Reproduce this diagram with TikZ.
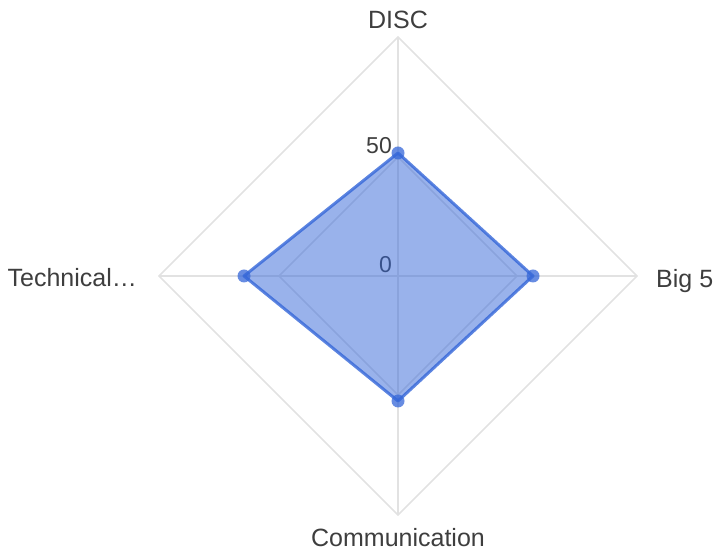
\documentclass[tikz,border=0pt]{standalone}
\usepackage{fontspec}
\setmainfont{Liberation Sans}
\usetikzlibrary{positioning}
\definecolor{gridgray}{RGB}{226,226,226}
\definecolor{areablue}{RGB}{52,102,216}
\definecolor{labelgray}{RGB}{62,62,62}
\tikzset{
    x=1pt,
    y=1pt,
    gridline/.style={draw=gridgray, line width=1.5pt},
    area/.style={fill=areablue, fill opacity=0.5, draw=areablue, draw opacity=0.8, line width=3pt, line join=round},
    datapt/.style={circle, fill=areablue, fill opacity=0.75, inner sep=0pt, minimum size=13pt},
    axislabel/.style={text=labelgray, inner sep=0pt, font=\fontsize{25}{30}\selectfont},
    ticklabel/.style={text=labelgray, inner sep=0pt, anchor=base east, font=\fontsize{23}{28}\selectfont},
}

\begin{document}
\begin{tikzpicture}
    \useasboundingbox (0,0) rectangle (714,551);
    \begin{scope}[shift={(398,275)}]
        % grid rings and spokes
        \coordinate (c) at (0,0);
        \foreach \r/\n in {119/in, 239/out} {
            \coordinate (\n-t) at (90:\r);
            \coordinate (\n-r) at (0:\r);
            \coordinate (\n-b) at (270:\r);
            \coordinate (\n-l) at (180:\r);
            \draw[gridline] (\n-t) -- (\n-r) -- (\n-b) -- (\n-l) -- cycle;
        }
        \draw[gridline] (out-t) -- (out-b);
        \draw[gridline] (out-l) -- (out-r);

        % tick labels
        \node[ticklabel] (tick0) at (-6,3) {0};
        \node[ticklabel] (tick50) at (-6,122) {50};

        % data
        \coordinate (disc) at (90:123);
        \coordinate (big5) at (0:135);
        \coordinate (comm) at (270:125);
        \coordinate (tech) at (180:154);
        \draw[area] (disc) -- (big5) -- (comm) -- (tech) -- cycle;
        \foreach \p in {disc, big5, comm, tech}
            \node[datapt] at (\p) {};

        % axis labels
        \node[axislabel, anchor=base] (l-disc) at (0,247) {DISC};
        \node[axislabel, anchor=base west] (l-big5) at (258,-12) {Big 5};
        \node[axislabel, anchor=base] (l-comm) at (0,-270) {Communication};
        \node[axislabel, anchor=base east] (l-tech) at (-261,-11) {Technical…};
    \end{scope}
\end{tikzpicture}
\end{document}
